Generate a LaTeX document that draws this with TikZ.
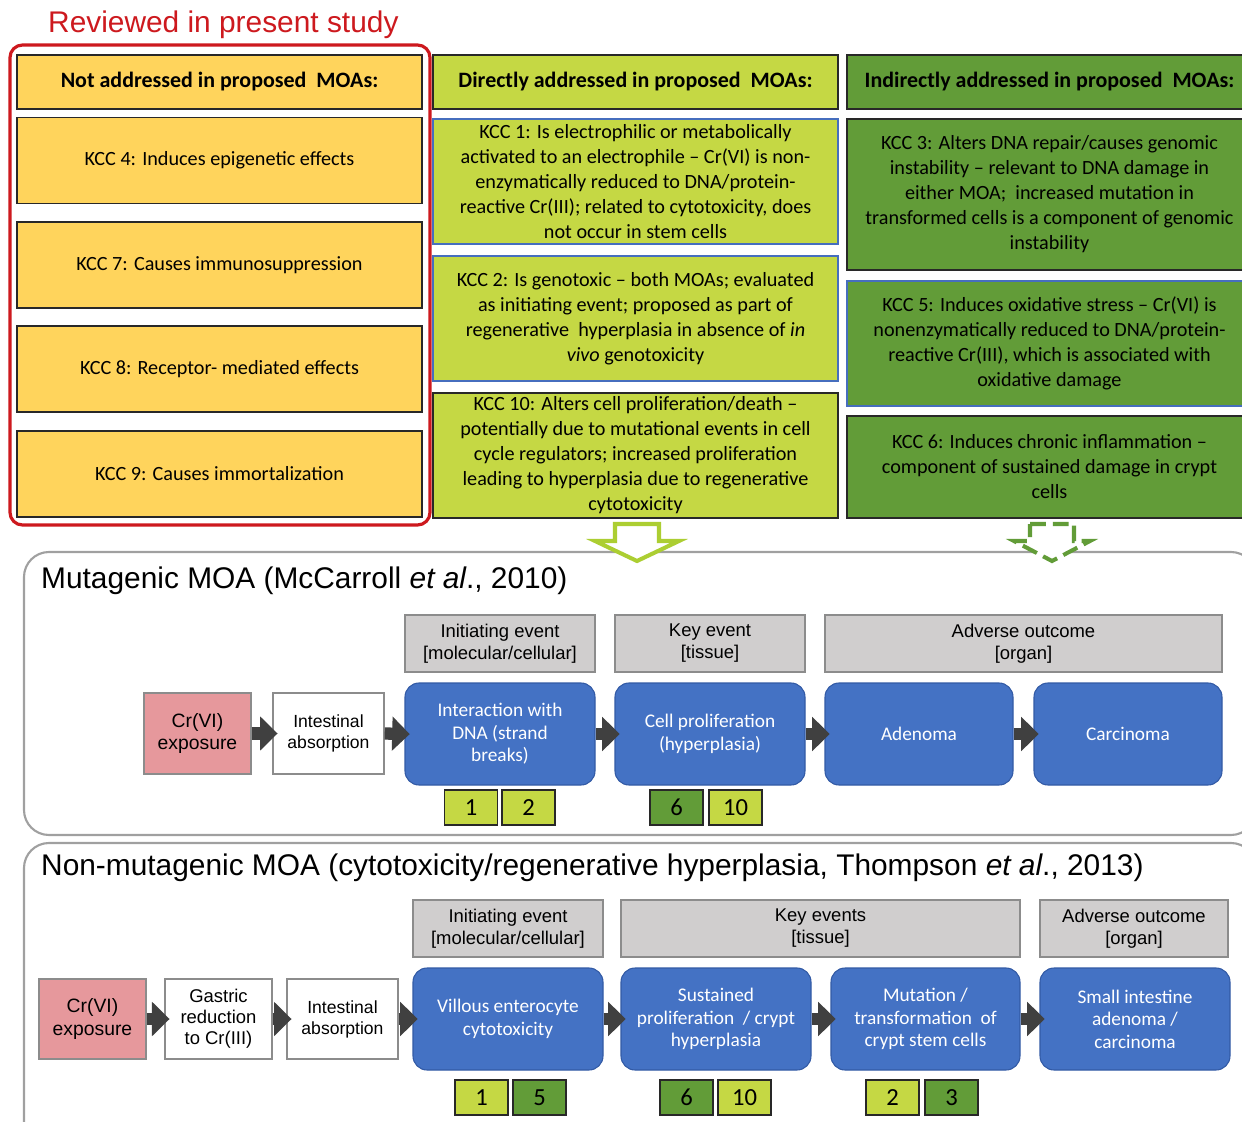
\documentclass[tikz,border=0pt]{standalone}
\usepackage{fontspec}
\setmainfont{Carlito}
\newfontfamily\arialf{Liberation Sans}
\usetikzlibrary{arrows.meta}
\definecolor{kyellow}{RGB}{255,212,92}
\definecolor{klime}{RGB}{197,216,68}
\definecolor{kgreen}{RGB}{98,156,56}
\definecolor{kdark}{RGB}{40,40,40}
\definecolor{kblue}{RGB}{68,114,196}
\definecolor{kblueline}{RGB}{50,90,165}
\definecolor{kbluebord}{RGB}{70,110,190}
\definecolor{kgray}{RGB}{208,206,206}
\definecolor{kgrayline}{RGB}{140,140,140}
\definecolor{kpanel}{RGB}{160,160,160}
\definecolor{kpink}{RGB}{230,152,156}
\definecolor{karrow}{RGB}{64,64,64}
\definecolor{kred}{RGB}{205,25,30}
\definecolor{klimearrow}{RGB}{172,206,50}
\def\pxu{0.02cm}

\begin{document}
\begin{tikzpicture}[x=0.02cm,y=-0.02cm,
    kcc/.style={draw=kdark,line width=1pt,align=center,inner sep=1pt,font=\fontsize{11.5}{14.2}\selectfont},
    kcchead/.style={kcc,minimum height=54*\pxu,font=\fontsize{12.5}{15}\selectfont\bfseries},
    ycol/.style={fill=kyellow,minimum width=405*\pxu},
    lcol/.style={fill=klime,minimum width=405*\pxu},
    gcol/.style={fill=kgreen,minimum width=405*\pxu},
    stagebox/.style={draw=kgrayline,line width=0.8pt,fill=kgray,align=center,minimum height=57*\pxu,font=\arialf\fontsize{10.5}{12.5}\selectfont},
    evbox/.style={draw=kblueline,line width=0.6pt,fill=kblue,rounded corners=0.28cm,align=center,text=white,minimum height=102*\pxu,font=\fontsize{11}{12.8}\selectfont},
    wbox/.style={draw=kgrayline,line width=0.8pt,fill=white,align=center,minimum height=80*\pxu,font=\arialf\fontsize{10}{12}\selectfont},
    expo/.style={wbox,fill=kpink,font=\arialf\fontsize{11}{13}\selectfont},
    numbox/.style={draw=kdark,line width=0.9pt,minimum width=53*\pxu,minimum height=35*\pxu,font=\fontsize{14}{16}\selectfont},
    blk/.style={draw=karrow,line width=7pt,shorten >=-3pt,-{Triangle[length=10pt,width=19pt]}},
    panel/.style={draw=kpanel,line width=1.2pt,rounded corners=0.5cm},
    mtitle/.style={anchor=west,font=\arialf\fontsize{17}{20}\selectfont}]
  \clip (0,0) rectangle (1242,1122);
  \fill[white] (0,0) rectangle (1242,1122);

  % Title
  \node[anchor=west,text=kred,font=\arialf\fontsize{17}{20}\selectfont] (rev) at (42,25) {Reviewed in present study};

  % Not addressed
  \node[kcchead,ycol] (hna) at (219.5,82) {Not addressed in proposed \ MOAs:};
  \node[kcc,ycol,minimum height=86*\pxu] (k4) at (219.5,160.5) {KCC 4: Induces epigenetic effects};
  \node[kcc,ycol,minimum height=86*\pxu] (k7) at (219.5,265) {KCC 7: Causes immunosuppression};
  \node[kcc,ycol,minimum height=86*\pxu] (k8) at (219.5,369) {KCC 8: Receptor- mediated effects};
  \node[kcc,ycol,minimum height=86*\pxu] (k9) at (219.5,474) {KCC 9: Causes immortalization};
  \draw[kred,line width=1.8pt,rounded corners=0.25cm] (10,45) rectangle (430,525);

  % Directly addressed
  \node[kcchead,lcol] (hda) at (635.5,82) {Directly addressed in proposed \ MOAs:};
  \node[kcc,lcol,draw=kbluebord,minimum height=125*\pxu] (k1) at (635.5,181.5) {KCC 1: Is electrophilic or metabolically\\activated to an electrophile – Cr(VI) is non-\\enzymatically reduced to DNA/protein-\\reactive Cr(III); related to cytotoxicity, does\\not occur in stem cells};
  \node[kcc,lcol,draw=kbluebord,minimum height=125*\pxu] (k2) at (635.5,318.5) {KCC 2: Is genotoxic – both MOAs; evaluated\\as initiating event; proposed as part of\\regenerative \ hyperplasia in absence of \textit{in}\\\textit{vivo} genotoxicity};
  \node[kcc,lcol,minimum height=125*\pxu] (k10) at (635.5,455.5) {KCC 10: Alters cell proliferation/death –\\potentially due to mutational events in cell\\cycle regulators; increased proliferation\\leading to hyperplasia due to regenerative\\cytotoxicity};

  % Indirectly addressed
  \node[kcchead,gcol] (hia) at (1049.5,82) {Indirectly addressed in proposed \ MOAs:};
  \node[kcc,gcol,minimum height=151*\pxu] (k3) at (1049.5,194.5) {KCC 3: Alters DNA repair/causes genomic\\instability – relevant to DNA damage in\\either MOA; \ increased mutation in\\transformed cells is a component of genomic\\instability};
  \node[kcc,gcol,draw=kbluebord,minimum height=125*\pxu] (k5) at (1049.5,343.5) {KCC 5: Induces oxidative stress – Cr(VI) is\\nonenzymatically reduced to DNA/protein-\\reactive Cr(III), which is associated with\\oxidative damage};
  \node[kcc,gcol,minimum height=102*\pxu] (k6) at (1049.5,467) {KCC 6: Induces chronic inflammation –\\component of sustained damage in crypt\\cells};

  % Panels
  \draw[panel] (24,552) rectangle (1256,835);
  \draw[panel] (24,843) rectangle (1256,1150);

  % Hollow arrows
  \draw[shift={(637,524)},draw=klimearrow,fill=white,line width=2.3pt]
    (-22,0) -- (22,0) -- (22,17) -- (42,17) -- (0,37) -- (-42,17) -- (-22,17) -- cycle;
  \draw[shift={(1052,524)},draw=kgreen,fill=white,line width=2.3pt,dash pattern=on 9pt off 4pt]
    (-22,0) -- (22,0) -- (22,17) -- (38,17) -- (0,37) -- (-38,17) -- (-22,17) -- cycle;

  % Mutagenic MOA
  \node[mtitle] (t1) at (35,581) {Mutagenic MOA (McCarroll \textit{et al}., 2010)};
  \node[stagebox,minimum width=190*\pxu] (ie1) at (500,643.5) {Initiating event\\{[molecular/cellular]}};
  \node[stagebox,minimum width=190*\pxu] (ke1) at (710,643.5) {Key event\\{[tissue]}};
  \node[stagebox,minimum width=397*\pxu] (ao1) at (1023.5,643.5) {Adverse outcome\\{[organ]}};
  \node[expo,minimum width=107*\pxu,minimum height=81*\pxu] (cr1) at (197.5,733.5) {Cr(VI)\\exposure};
  \node[wbox,minimum width=111*\pxu,minimum height=81*\pxu] (ab1) at (328.5,733.5) {Intestinal\\absorption};
  \node[evbox,minimum width=190*\pxu] (e1) at (500,734) {Interaction with\\DNA (strand\\breaks)};
  \node[evbox,minimum width=190*\pxu] (e2) at (710,734) {Cell proliferation\\(hyperplasia)};
  \node[evbox,minimum width=188*\pxu] (e3) at (919,734) {Adenoma};
  \node[evbox,minimum width=188*\pxu] (e4) at (1128,734) {Carcinoma};
  \draw[blk] (cr1.east) -- (ab1.west);
  \draw[blk] (ab1.east) -- (e1.west);
  \draw[blk] (e1.east) -- (e2.west);
  \draw[blk] (e2.east) -- (e3.west);
  \draw[blk] (e3.east) -- (e4.west);
  \node[numbox,fill=klime] (m1) at (471,807.5) {1};
  \node[numbox,fill=klime] (m2) at (528.5,807.5) {2};
  \node[numbox,fill=kgreen] (m6) at (676.5,807.5) {6};
  \node[numbox,fill=klime] (m10) at (735.5,807.5) {10};

  % Non-mutagenic MOA
  \node[mtitle] (t2) at (35,868) {Non-mutagenic MOA (cytotoxicity/regenerative hyperplasia, Thompson \textit{et al}., 2013)};
  \node[stagebox,minimum width=190*\pxu] (ie2) at (508,928.5) {Initiating event\\{[molecular/cellular]}};
  \node[stagebox,minimum width=399*\pxu] (ke2) at (820.5,928.5) {Key events\\{[tissue]}};
  \node[stagebox,minimum width=188*\pxu] (ao2) at (1134,928.5) {Adverse outcome\\{[organ]}};
  \node[expo,minimum width=107*\pxu] (cr2) at (92.5,1019) {Cr(VI)\\exposure};
  \node[wbox,minimum width=107*\pxu,font=\arialf\fontsize{10.5}{12}\selectfont] (gr2) at (218.5,1019) {Gastric\\reduction\\to Cr(III)};
  \node[wbox,minimum width=111*\pxu] (ab2) at (342.5,1019) {Intestinal\\absorption};
  \node[evbox,minimum width=190*\pxu] (f1) at (508,1019) {Villous enterocyte\\cytotoxicity};
  \node[evbox,minimum width=190*\pxu] (f2) at (716,1019) {Sustained\\proliferation \ / crypt\\hyperplasia};
  \node[evbox,minimum width=189*\pxu] (f3) at (925.5,1019) {Mutation /\\transformation \ of\\crypt stem cells};
  \node[evbox,minimum width=190*\pxu] (f4) at (1135,1019) {Small intestine\\adenoma /\\carcinoma};
  \draw[blk] (cr2.east) -- (gr2.west);
  \draw[blk] (gr2.east) -- (ab2.west);
  \draw[blk] (ab2.east) -- (f1.west);
  \draw[blk] (f1.east) -- (f2.west);
  \draw[blk] (f2.east) -- (f3.west);
  \draw[blk] (f3.east) -- (f4.west);
  \node[numbox,fill=klime] (n1) at (481.5,1097.5) {1};
  \node[numbox,fill=kgreen] (n5) at (539.5,1097.5) {5};
  \node[numbox,fill=kgreen] (n6) at (686.5,1097.5) {6};
  \node[numbox,fill=klime] (n10) at (744.5,1097.5) {10};
  \node[numbox,fill=klime] (n2) at (892.5,1097.5) {2};
  \node[numbox,fill=kgreen] (n3) at (951.5,1097.5) {3};
\end{tikzpicture}
\end{document}
